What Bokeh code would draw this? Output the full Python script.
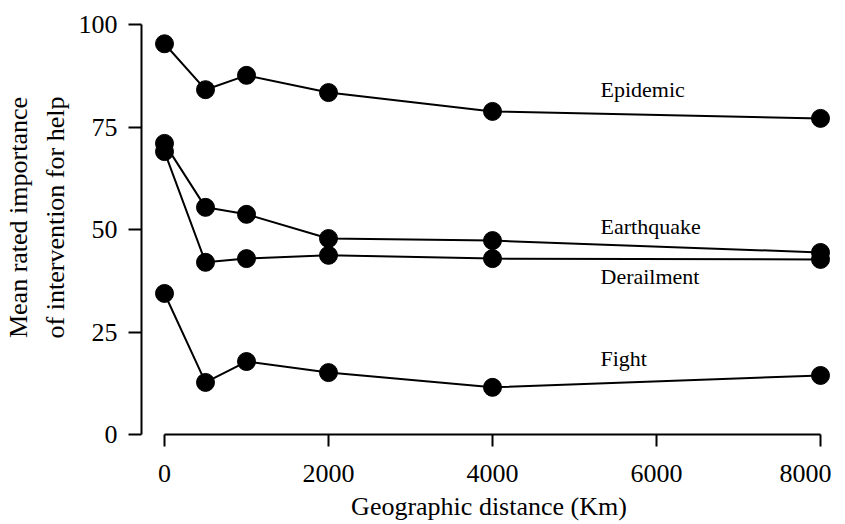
from bokeh.plotting import figure
from bokeh.models import Range1d, FixedTicker, ColumnDataSource
from bokeh.core.properties import value
from bokeh.embed import file_html
from bokeh.resources import INLINE

# ---- data ----
distance = [0, 500, 1000, 2000, 4000, 8000]
epidemic = [95.3, 84.1, 87.6, 83.4, 78.8, 77.1]
earthquake = [71.0, 55.4, 53.7, 47.8, 47.3, 44.4]
derailment = [69.0, 42.0, 42.9, 43.7, 42.9, 42.7]
fight = [34.4, 12.7, 17.8, 15.1, 11.5, 14.4]
series = [epidemic, earthquake, derailment, fight]
series_names = ["Epidemic", "Earthquake", "Derailment", "Fight"]
x_ticks = [0, 2000, 4000, 6000, 8000]
y_ticks = [0, 25, 50, 75, 100]
x_title = "Geographic distance (Km)"
y_title = "Mean rated importance\nof intervention for help"

# ---- layout ----
W, H = 844, 523
L, R, T, B = 141, 8, 0, 89
frame_w = W - L - R
frame_h = H - T - B
px_per_x = 0.082
x_start = -23 / px_per_x
x_end = x_start + frame_w / px_per_x
px_per_y = 4.1
y_start = 0
y_end = y_start + frame_h / px_per_y

def cx_to_data(cx):
    return x_start + (cx - L) / px_per_x

def cy_to_data(cy):
    return y_end - (cy - T) / px_per_y

FONT = "Liberation Serif"

p = figure(width=W, height=H, output_backend="svg", toolbar_location=None,
           x_range=Range1d(x_start, x_end), y_range=Range1d(y_start, y_end),
           min_border_left=L, min_border_right=R, min_border_top=T, min_border_bottom=B)
p.outline_line_color = None
p.grid.visible = False
p.background_fill_color = "white"
p.border_fill_color = "white"

for ax in (p.xaxis[0], p.yaxis[0]):
    ax.axis_line_width = 2
    ax.axis_line_color = "black"
    ax.major_tick_line_width = 2
    ax.major_tick_line_color = "black"
    ax.major_tick_in = 0
    ax.minor_tick_line_color = None
    ax.major_label_text_font = FONT
    ax.major_label_text_font_size = "26px"
    ax.major_label_text_color = "black"
    ax.axis_label_text_font = FONT
    ax.axis_label_text_font_size = "26px"
    ax.axis_label_text_font_style = "normal"
    ax.axis_label_text_color = "black"

p.xaxis[0].ticker = FixedTicker(ticks=x_ticks)
p.xaxis[0].bounds = (x_ticks[0], x_ticks[-1])
p.xaxis[0].major_tick_out = 12
p.xaxis[0].major_label_standoff = 12
p.xaxis[0].major_label_overrides = {8000: "8000\u2002"}
p.xaxis[0].axis_label = x_title
p.xaxis[0].axis_label_standoff = 1

p.yaxis[0].ticker = FixedTicker(ticks=y_ticks)
p.yaxis[0].bounds = (y_ticks[0], y_ticks[-1])
p.yaxis[0].major_tick_out = 13
p.yaxis[0].major_label_standoff = 11
p.yaxis[0].axis_label = y_title
p.yaxis[0].axis_label_standoff = 6
p.yaxis[0].axis_label_text_line_height = 1.27

for ys in series:
    p.line(distance, ys, line_color="black", line_width=2)
for ys in series:
    p.scatter(distance, ys, size=18, fill_color="black", line_color="black")

# series labels
lab_src = ColumnDataSource(dict(
    x=[cx_to_data(600)] * 4,
    y=[cy_to_data(c) for c in (89, 226, 276, 358)],
    t=series_names,
))
p.text(x="x", y="y", text="t", source=lab_src, text_font=value(FONT),
       text_font_size="22px", text_color="black", text_baseline="alphabetic",
       text_align="left")

open("out.html", "w").write(file_html(p, INLINE))
